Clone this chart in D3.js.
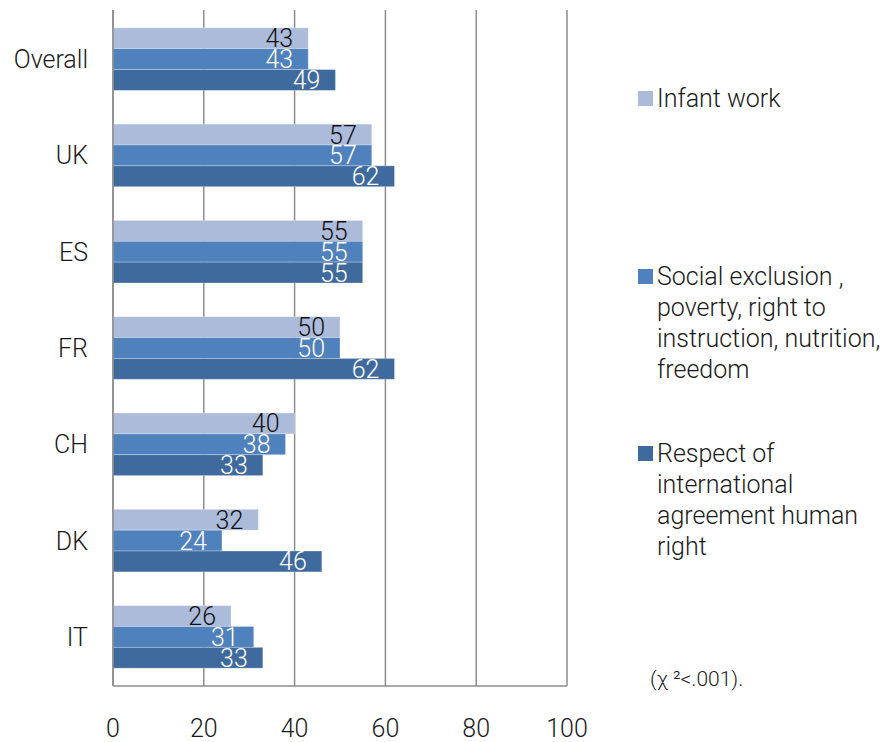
<!DOCTYPE html>
<html>
<head>
<meta charset="utf-8">
<script src="https://cdn.jsdelivr.net/npm/d3@7/dist/d3.min.js"></script>
<style>
  html, body { margin: 0; padding: 0; background: #fff; }
  svg { display: block; font-family: Roboto, "Liberation Sans", Arial, sans-serif; font-weight: 300; }
</style>
</head>
<body>
<svg id="chart" width="892" height="742"></svg>
<script>
// Countries shown top to bottom
const categories = ["Overall", "UK", "ES", "FR", "CH", "DK", "IT"];
// Series names (legend lines) and values per country, in percent
const seriesNames = [
  ["Infant work"],
  ["Social exclusion ,", "poverty, right to", "instruction, nutrition,", "freedom"],
  ["Respect of", "international", "agreement human", "right"]
];
const infantWork   = [43, 57, 55, 50, 40, 32, 26];
const socialExcl   = [43, 57, 55, 50, 38, 24, 31];
const respectIntl  = [49, 62, 55, 62, 33, 46, 33];
const xTicks = [0, 20, 40, 60, 80, 100];
const noteText = "(\u03C7 \u00B2<.001).";

const seriesValues = [infantWork, socialExcl, respectIntl];
const colors = ["#abbbd9", "#4f81bd", "#3f6a9d"];
const labelColors = ["#111", "#fff", "#fff"];

const svg = d3.select("#chart");
const plotLeft = 113, plotRight = 567, plotTop = 10, plotBottom = 686;

const x = d3.scaleLinear().domain([0, 100]).range([plotLeft, plotRight]);
const y = d3.scaleBand().domain(categories).range([plotTop, plotBottom]).paddingInner(0.35).paddingOuter(0.185);
const ySub = d3.scaleBand().domain(d3.range(3)).range([0, y.bandwidth()]);

// Vertical gridlines
svg.append("g")
  .selectAll("line")
  .data(xTicks)
  .join("line")
  .attr("x1", d => x(d)).attr("x2", d => x(d))
  .attr("y1", plotTop).attr("y2", plotBottom)
  .attr("stroke", "#8c8c8c").attr("stroke-width", 1.5);

// Bottom axis line
svg.append("line")
  .attr("x1", plotLeft).attr("x2", plotRight)
  .attr("y1", plotBottom).attr("y2", plotBottom)
  .attr("stroke", "#8c8c8c").attr("stroke-width", 1.5);

// Tick labels
svg.append("g")
  .selectAll("text")
  .data(xTicks)
  .join("text")
  .attr("x", d => x(d)).attr("y", 737)
  .attr("text-anchor", "middle")
  .attr("font-size", 25).attr("fill", "#1a1a1a")
  .text(d => d);

// Bars
const groups = svg.append("g")
  .selectAll("g")
  .data(categories)
  .join("g")
  .attr("transform", d => `translate(0,${y(d)})`);

groups.each(function(cat, ci) {
  const g = d3.select(this);
  seriesValues.forEach((vals, si) => {
    const v = vals[ci];
    g.append("rect")
      .attr("x", x(0)).attr("y", ySub(si))
      .attr("width", x(v) - x(0)).attr("height", ySub.bandwidth())
      .attr("fill", colors[si])
      .attr("stroke", "rgba(255,255,255,0.35)").attr("stroke-width", 0.8);
    g.append("text")
      .attr("x", x(v) - 15)
      .attr("y", ySub(si) + ySub.bandwidth() / 2)
      .attr("dy", "0.36em")
      .attr("text-anchor", "end")
      .attr("font-size", 25)
      .attr("fill", labelColors[si])
      .text(v);
  });
});

// Category labels
svg.append("g")
  .selectAll("text")
  .data(categories)
  .join("text")
  .attr("x", 88)
  .attr("y", d => y(d) + y.bandwidth() / 2)
  .attr("dy", "0.36em")
  .attr("text-anchor", "end")
  .attr("font-size", 25).attr("fill", "#1a1a1a")
  .text(d => d);

// Left axis line
svg.append("line")
  .attr("x1", plotLeft).attr("x2", plotLeft)
  .attr("y1", plotTop).attr("y2", plotBottom)
  .attr("stroke", "#8c8c8c").attr("stroke-width", 1.5);

// Legend
const legendTops = [98, 276, 453];
const lineH = 31;
seriesNames.forEach((lines, i) => {
  const g = svg.append("g").attr("transform", `translate(638,${legendTops[i]})`);
  g.append("rect").attr("x", 0).attr("y", -7).attr("width", 15).attr("height", 15).attr("fill", colors[i]);
  g.selectAll("text")
    .data(lines)
    .join("text")
    .attr("x", 19)
    .attr("y", (d, j) => j * lineH)
    .attr("dy", "0.36em")
    .attr("font-size", 25).attr("fill", "#1a1a1a")
    .text(d => d);
});

// Significance note
svg.append("text")
  .attr("x", 650).attr("y", 686)
  .attr("font-size", 21).attr("fill", "#1a1a1a")
  .text(noteText);
</script>
</body>
</html>
